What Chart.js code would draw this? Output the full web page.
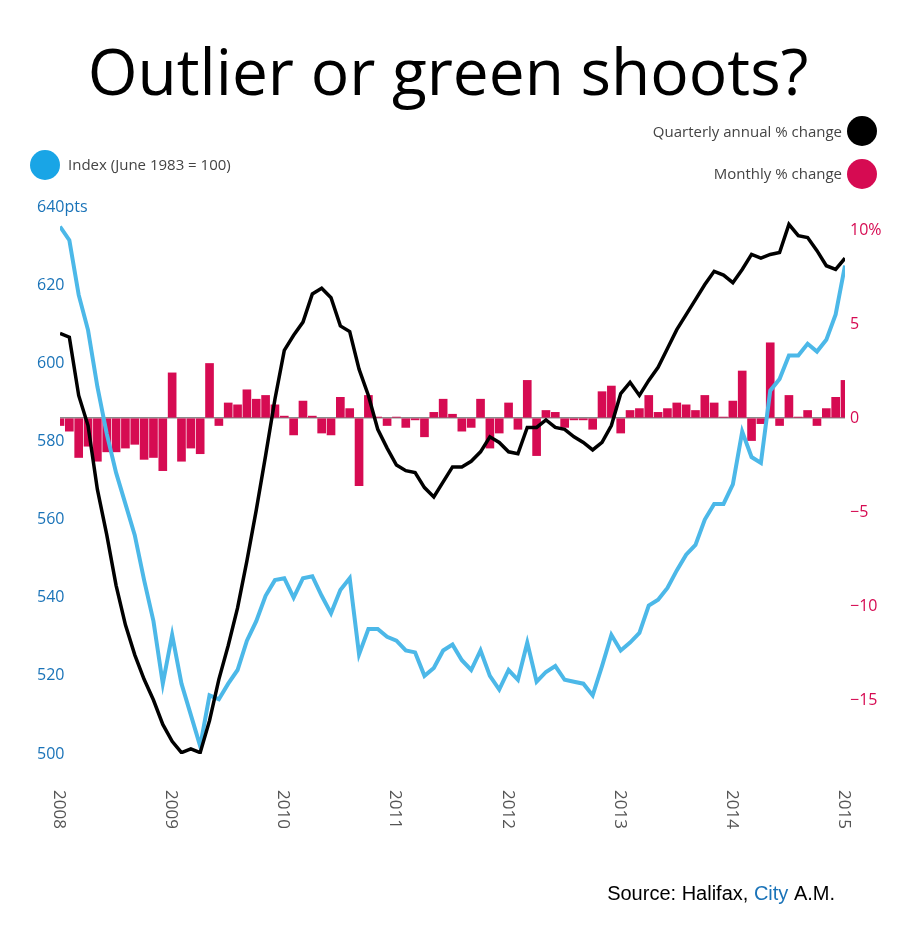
<!DOCTYPE html>
<html>
<head>
<meta charset="utf-8">
<script src="https://cdn.jsdelivr.net/npm/chart.js@4"></script>
<style>
  body { margin: 0; background: #fff; }
  canvas { display: block; }
</style>
</head>
<body>
<canvas id="c" width="900" height="930"></canvas>
<script>
// monthly, Jan 2008 .. Jan 2015
const years = ['2008', '2009', '2010', '2011', '2012', '2013', '2014', '2015'];
const indexPts = [
  635, 631.5, 617.5, 608.5, 594, 582, 572, 564, 556, 544.5, 534, 518,
  530.5, 518, 510, 502, 515, 514, 518, 521.5, 529, 534, 540.5, 544.5,
  545, 540, 545, 545.5, 540.5, 536, 542, 545, 525.5, 532, 532, 530,
  529, 526.5, 526, 520, 522, 526.5, 528, 524, 521.5, 526.5, 520, 516.5,
  521.5, 519, 528.5, 518.5, 521, 522.5, 519, 518.5, 518, 515, 522.5, 530.5,
  526.5, 528.5, 531, 538, 539.5, 542.5, 547, 551, 553.5, 560, 564, 564,
  569, 582.5, 576, 574.5, 593, 596, 602, 602, 605, 603, 606, 612.5,
  625
];
const quarterlyAnnual = [
  4.5, 4.3, 1.2, -0.4, -3.8, -6.2, -8.9, -11, -12.6, -13.9, -15, -16.3,
  -17.2, -17.8, -17.6, -17.8, -16.1, -13.9, -12.1, -10.1, -7.6, -4.9, -2, 1,
  3.6, 4.4, 5.1, 6.6, 6.9, 6.4, 4.9, 4.6, 2.6, 1.2, -0.6, -1.6,
  -2.5, -2.8, -2.9, -3.7, -4.2, -3.4, -2.6, -2.6, -2.3, -1.8, -1, -1.3,
  -1.8, -1.9, -0.5, -0.5, -0.1, -0.5, -0.6, -1, -1.3, -1.7, -1.3, -0.4,
  1.3, 1.9, 1.2, 2, 2.7, 3.7, 4.7, 5.5, 6.3, 7.1, 7.8, 7.6,
  7.2, 7.9, 8.7, 8.5, 8.7, 8.8, 10.3, 9.7, 9.6, 8.9, 8.1, 7.9,
  8.5
];
const monthly = [
  -0.4, -0.7, -2.1, -1.5, -2.3, -1.8, -1.8, -1.6, -1.4, -2.2, -2.1, -2.8,
  2.4, -2.3, -1.6, -1.9, 2.9, -0.4, 0.8, 0.7, 1.5, 1.0, 1.2, 0.7,
  0.1, -0.9, 0.9, 0.1, -0.8, -0.9, 1.1, 0.5, -3.6, 1.2, 0.05, -0.4,
  0.05, -0.5, -0.1, -1.0, 0.3, 1.0, 0.2, -0.7, -0.5, 1.0, -1.6, -0.8,
  0.8, -0.6, 2.0, -2.0, 0.4, 0.3, -0.5, -0.1, -0.1, -0.6, 1.4, 1.7,
  -0.8, 0.4, 0.5, 1.2, 0.3, 0.5, 0.8, 0.7, 0.4, 1.2, 0.8, 0.05,
  0.9, 2.5, -1.2, -0.3, 4.0, -0.4, 1.2, 0.05, 0.4, -0.4, 0.5, 1.1,
  2.0
];
const leftTicks = [640, 620, 600, 580, 560, 540, 520, 500];
const rightTicks = [10, 5, 0, -5, -10, -15];

const BLUE = '#4cb8e8', BLUE_TXT = '#1a73b8', RED = '#d60b52', RED_TXT = '#d60b52';
const FONT = '"Open Sans", "Noto Sans", sans-serif';
const pts = a => a.map((v, i) => ({ x: i, y: v }));

const decor = {
  id: 'decor',
  afterDraw(chart) {
    const c = chart.ctx, yl = chart.scales.yl, yr = chart.scales.yr, x = chart.scales.x;
    c.save();
    c.fillStyle = '#000';
    c.font = '64px ' + FONT;
    c.textAlign = 'center'; c.textBaseline = 'alphabetic';
    c.fillText('Outlier or green shoots?', 448, 95);

    // legend
    c.font = '15px ' + FONT; c.fillStyle = '#444'; c.textBaseline = 'middle';
    c.textAlign = 'right';
    c.fillText('Quarterly annual % change', 842, 133);
    c.fillText('Monthly % change', 842, 175);
    c.textAlign = 'left';
    c.fillText('Index (June 1983 = 100)', 68, 166);
    [[862, 131, '#000'], [862, 174, RED], [45, 165, '#19a5e6']].forEach(([cx, cy, col]) => {
      c.beginPath(); c.arc(cx, cy, 15, 0, Math.PI * 2); c.fillStyle = col; c.fill();
    });

    // axis labels
    c.font = '16px ' + FONT; c.textAlign = 'left';
    c.fillStyle = BLUE_TXT;
    leftTicks.forEach(v => c.fillText(v === 640 ? '640pts' : String(v), 37, yl.getPixelForValue(v)));
    c.fillStyle = RED_TXT;
    rightTicks.forEach(v => c.fillText(v === 10 ? '10%' : String(v).replace('-', '\u2212'), 850, yr.getPixelForValue(v)));
    c.fillStyle = '#555'; c.font = '17px ' + FONT;
    years.forEach((yLabel, i) => {
      c.save();
      c.translate(x.getPixelForValue(i * 12) - 6, 790);
      c.rotate(Math.PI / 2);
      c.textBaseline = 'alphabetic';
      c.fillText(yLabel, 0, 0);
      c.restore();
    });

    // source
    c.font = '20px "Liberation Sans", Arial, sans-serif';
    c.textAlign = 'left'; c.textBaseline = 'alphabetic';
    const parts = [['Source: Halifax, ', '#000'], ['City', BLUE_TXT], [' A.M.', '#000']];
    let w = parts.reduce((s, p) => s + c.measureText(p[0]).width, 0);
    let px = 835 - w;
    parts.forEach(([t, col]) => { c.fillStyle = col; c.fillText(t, px, 900); px += c.measureText(t).width; });
    c.restore();
  }
};

new Chart(document.getElementById('c'), {
  data: {
    datasets: [
      { type: 'line', data: pts(indexPts), yAxisID: 'yl', borderColor: BLUE, borderWidth: 4,
        pointRadius: 0, tension: 0, order: 1 },
      { type: 'line', data: pts(quarterlyAnnual), yAxisID: 'yr', borderColor: '#000', borderWidth: 3.5,
        pointRadius: 0, tension: 0, order: 0 },
      { type: 'bar', data: pts(monthly), yAxisID: 'yr', backgroundColor: RED,
        barThickness: 8, order: 2 }
    ]
  },
  options: {
    responsive: false,
    animation: false,
    layout: { padding: { top: 207, bottom: 0, left: 0, right: 0 } },
    plugins: { legend: { display: false }, tooltip: { enabled: false } },
    scales: {
      x: {
        type: 'linear', min: 0, max: 84, offset: false,
        grid: { display: false }, border: { display: false },
        ticks: { display: false },
        afterFit: s => { s.height = 176; }
      },
      yl: {
        position: 'left', min: 500, max: 640,
        grid: { display: false }, border: { display: false },
        ticks: { display: false },
        afterFit: s => { s.width = 60; }
      },
      yr: {
        position: 'right',
        min: -(754 - 418) / 18.8, max: (418 - 207) / 18.8,
        afterBuildTicks: s => { s.ticks = [{ value: 0 }]; },
        grid: { color: '#8a8a8a', lineWidth: 1.5, drawTicks: false },
        border: { display: false },
        ticks: { display: false },
        afterFit: s => { s.width = 55; }
      }
    }
  },
  plugins: [decor]
});
</script>
</body>
</html>
